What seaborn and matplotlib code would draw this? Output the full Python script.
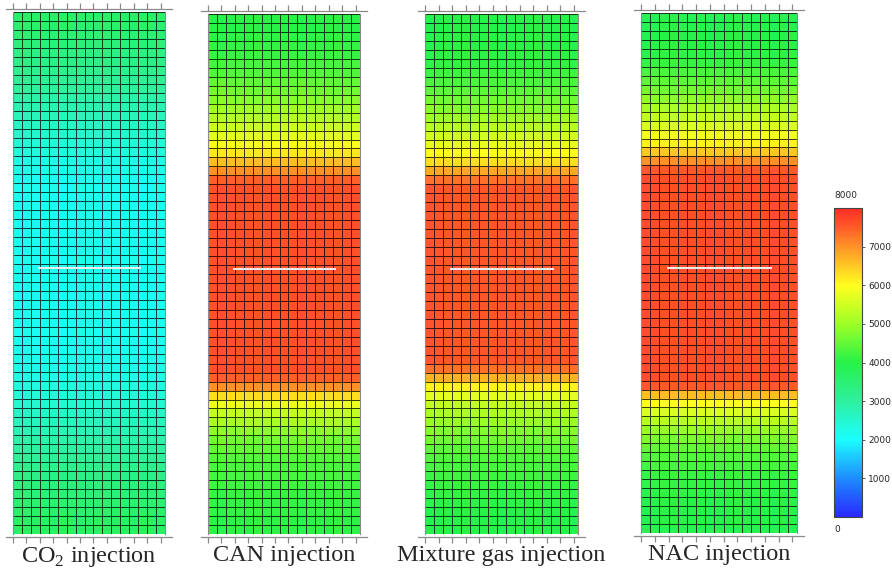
import numpy as np
import pandas as pd
import matplotlib
matplotlib.use("Agg")
import matplotlib.pyplot as plt
from matplotlib.colors import LinearSegmentedColormap, Normalize
from matplotlib.cm import ScalarMappable
import seaborn as sns

# ---------------- data ----------------
panel_titles = ["CO$_\\mathrm{2}$ injection", "CAN injection",
                "Mixture gas injection", "NAC injection"]
n_cols = 17

co2_rows = [3650, 3580, 3500, 3420, 3340, 3260, 3180, 3100, 3000, 2900, 2800, 2700, 2600, 2500,
            2420, 2350, 2280, 2220, 2180, 2160, 2150, 2150, 2150, 2150, 2150, 2150, 2150, 2150,
            2150, 2150, 2150, 2150, 2150, 2150, 2150, 2150, 2160, 2170, 2190, 2220, 2260, 2320,
            2400, 2480, 2580, 2680, 2780, 2880, 2980, 3080, 3180, 3280, 3380, 3460, 3540, 3620,
            3680, 3720]
can_rows = [4000, 4000, 4050, 4100, 4150, 4250, 4350, 4500, 4650, 4800, 5000, 5200, 5450, 5700,
            5950, 6200, 6600, 7000, 7450,
            7600, 7600, 7600, 7600, 7600, 7600, 7600, 7600, 7600, 7600, 7600, 7600, 7600, 7600,
            7600, 7600, 7600, 7600, 7600, 7600, 7600,
            7450, 7000, 6300, 5800, 5400, 5100, 4850, 4650, 4500, 4400, 4300, 4250, 4200, 4150,
            4100, 4100, 4050, 4050]
mix_rows = [3950, 3950, 4000, 4000, 4050, 4100, 4200, 4300, 4450, 4600, 4800, 5000, 5250, 5500,
            5750, 6000, 6300, 6800, 7300,
            7550, 7550, 7550, 7550, 7550, 7550, 7550, 7550, 7550, 7550, 7550, 7550, 7550, 7550,
            7550, 7550, 7550, 7550, 7550, 7550,
            7300, 6700, 6100, 5700, 5400, 5150, 4950, 4750, 4600, 4450, 4350, 4250, 4200, 4150,
            4100, 4050, 4000, 3950, 3950]
nac_rows = [3850, 3900, 3950, 4000, 4050, 4150, 4300, 4450, 4650, 4850, 5100, 5350, 5600, 5850,
            6100, 6500, 7000, 7500,
            7650, 7650, 7650, 7650, 7650, 7650, 7650, 7650, 7650, 7650, 7650, 7650, 7650, 7650,
            7650, 7650, 7650, 7650, 7650, 7650, 7650, 7650, 7650,
            7500, 6600, 6000, 5600, 5250, 4950, 4700, 4500, 4350, 4250, 4150, 4100, 4050, 4000,
            3950, 3950, 3900]

well_row = 28.4
well_start_col = 2.8
well_end_col = 14.3

cbar_min, cbar_max = 0, 8000
cbar_ticks = [1000, 2000, 3000, 4000, 5000, 6000, 7000]

# ---------------- style ----------------
sns.set_style("white")
plt.rcParams["font.family"] = ["DejaVu Sans"]
plt.rcParams["mathtext.fontset"] = "custom"
plt.rcParams["mathtext.rm"] = "Liberation Serif"

cmap = LinearSegmentedColormap.from_list(
    "cmg",
    [(0.0, (0.16, 0.16, 1.0)),
     (0.125, (0.12, 0.55, 1.0)),
     (0.25, (0.10, 1.0, 1.0)),
     (0.375, (0.18, 0.94, 0.62)),
     (0.5, (0.15, 0.95, 0.28)),
     (0.625, (0.62, 1.0, 0.15)),
     (0.75, (1.0, 1.0, 0.12)),
     (0.875, (1.0, 0.58, 0.15)),
     (0.95, (1.0, 0.32, 0.16)),
     (1.0, (1.0, 0.18, 0.15))])
norm = Normalize(cbar_min, cbar_max)

fig = plt.figure(figsize=(8.92, 5.71), dpi=100)
W, H = 892, 571
panel_px = [(13, 12, 165, 534), (208, 14, 360, 534), (425, 14, 578, 534), (641, 13, 797, 533)]
all_rows = [co2_rows, can_rows, mix_rows, nac_rows]

for (x0, y0, x1, y1), rows, title in zip(panel_px, all_rows, panel_titles):
    ax = fig.add_axes([x0 / W, (H - y1) / H, (x1 - x0) / W, (y1 - y0) / H])
    df = pd.DataFrame(np.repeat(np.array(rows, dtype=float)[:, None], n_cols, axis=1))
    sns.heatmap(df, ax=ax, cmap=cmap, vmin=cbar_min, vmax=cbar_max, cbar=False,
                linewidths=0.55, linecolor=(0.0, 0.0, 0.0, 0.75))
    ax.hlines(well_row, well_start_col, well_end_col, color=(0.92, 0.92, 0.92), lw=1.5)
    ax.set_xlabel("")
    ax.set_ylabel("")
    ax.set_yticks([])
    for s in ["left", "right"]:
        ax.spines[s].set_visible(True)
        ax.spines[s].set_color("#8a8a8a")
        ax.spines[s].set_linewidth(0.8)
    for s in ["top", "bottom"]:
        ax.spines[s].set_visible(True)
        ax.spines[s].set_color("#8a8a8a")
        ax.spines[s].set_linewidth(0.9)
        ax.spines[s].set_position(("outward", 2.5))
        ax.spines[s].set_bounds(-0.8, n_cols + 0.8)
    ticks = np.arange(0.0, n_cols, 1.5)
    ax.set_xticks(ticks)
    ax.set_xticklabels([])
    ax.tick_params(axis="x", which="both", top=True, bottom=True, direction="out",
                   length=4, width=0.9, color="#8a8a8a")
    ax.text(0.5, -0.022, title, transform=ax.transAxes, ha="center", va="top",
            fontsize=17.5, family="Liberation Serif")

cax = fig.add_axes([834 / W, (H - 517) / H, 28 / W, 309 / H])
cb = fig.colorbar(ScalarMappable(norm=norm, cmap=cmap), cax=cax, ticks=cbar_ticks)
cb.outline.set_edgecolor("#444444")
cb.outline.set_linewidth(0.8)
cax.tick_params(labelsize=6.5, length=2.5, width=0.6, color="#444444", pad=2)
cax.set_yticklabels([str(t) for t in cbar_ticks])
cax.text(0.0, 1.025, str(cbar_max), transform=cax.transAxes, ha="left", va="bottom", fontsize=6.5)
cax.text(0.0, -0.025, str(cbar_min), transform=cax.transAxes, ha="left", va="top", fontsize=6.5)

fig.savefig("out.png", dpi=100)
